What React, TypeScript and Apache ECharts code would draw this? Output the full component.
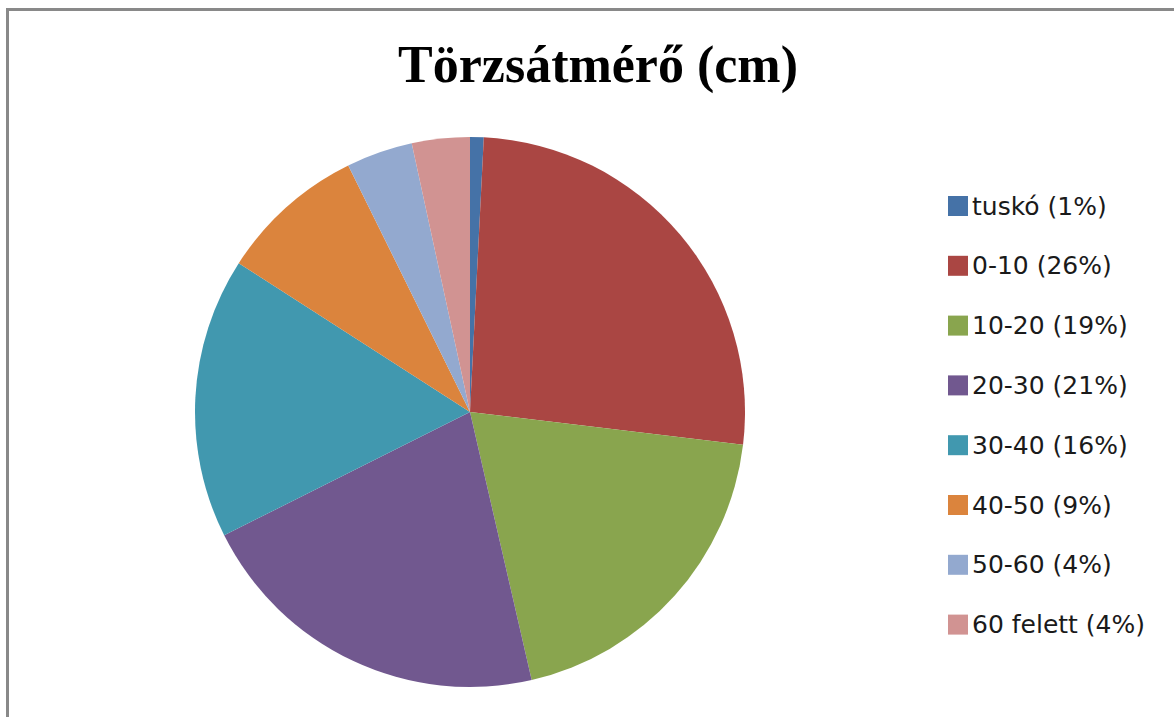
import React, { useEffect, useRef } from "react";
import * as echarts from "echarts";

const titleText = "Törzsátmérő (cm)";
const categories = ["tuskó (1%)", "0-10 (26%)", "10-20 (19%)", "20-30 (21%)", "30-40 (16%)", "40-50 (9%)", "50-60 (4%)", "60 felett (4%)"];
const values = [0.8, 26.1, 19.5, 21.2, 16.5, 8.6, 3.9, 3.4];
const colors = ["#4572A7", "#AA4643", "#89A54E", "#71588F", "#4198AF", "#DB843D", "#93A9CF", "#D19392"];

export default function App() {
  const ref = useRef<HTMLDivElement>(null);
  useEffect(() => {
    if (!ref.current) return;
    const chart = echarts.init(ref.current, undefined, { renderer: "svg" });
    chart.setOption({
      animation: false,
      backgroundColor: "#ffffff",
      color: colors,
      title: {
        text: titleText,
        left: 593,
        top: 33,
        textAlign: "center",
        textStyle: {
          fontFamily: "'Liberation Serif', 'DejaVu Serif', serif",
          fontWeight: "bold",
          fontSize: 52,
          color: "#000000",
        },
      },
      legend: {
        orient: "vertical",
        left: 948,
        top: 193.5,
        padding: 0,
        itemWidth: 20,
        itemHeight: 20,
        itemGap: 34.8,
        icon: "rect",
        data: categories,
        selectedMode: false,
        textStyle: {
          fontFamily: "'DejaVu Sans', sans-serif",
          fontSize: 25,
          lineHeight: 20,
          color: "#1a1a1a",
          padding: [0, 0, 0, -1],
        },
      },
      graphic: [
        { type: "line", shape: { x1: 6, y1: 9.5, x2: 1174, y2: 9.5 }, style: { stroke: "#898989", lineWidth: 3 } },
        { type: "line", shape: { x1: 7.5, y1: 8, x2: 7.5, y2: 717 }, style: { stroke: "#898989", lineWidth: 3 } },
      ],
      series: [
        {
          type: "pie",
          center: [470, 412],
          radius: 275,
          startAngle: 90,
          clockwise: true,
          label: { show: false },
          labelLine: { show: false },
          emphasis: { disabled: true },
          itemStyle: { borderWidth: 0 },
          data: categories.map((name, i) => ({ name, value: values[i] })),
        },
      ],
    });
    return () => chart.dispose();
  }, []);
  return <div ref={ref} style={{ position: "absolute", left: 0, top: 0, width: 1174, height: 717 }} />;
}
